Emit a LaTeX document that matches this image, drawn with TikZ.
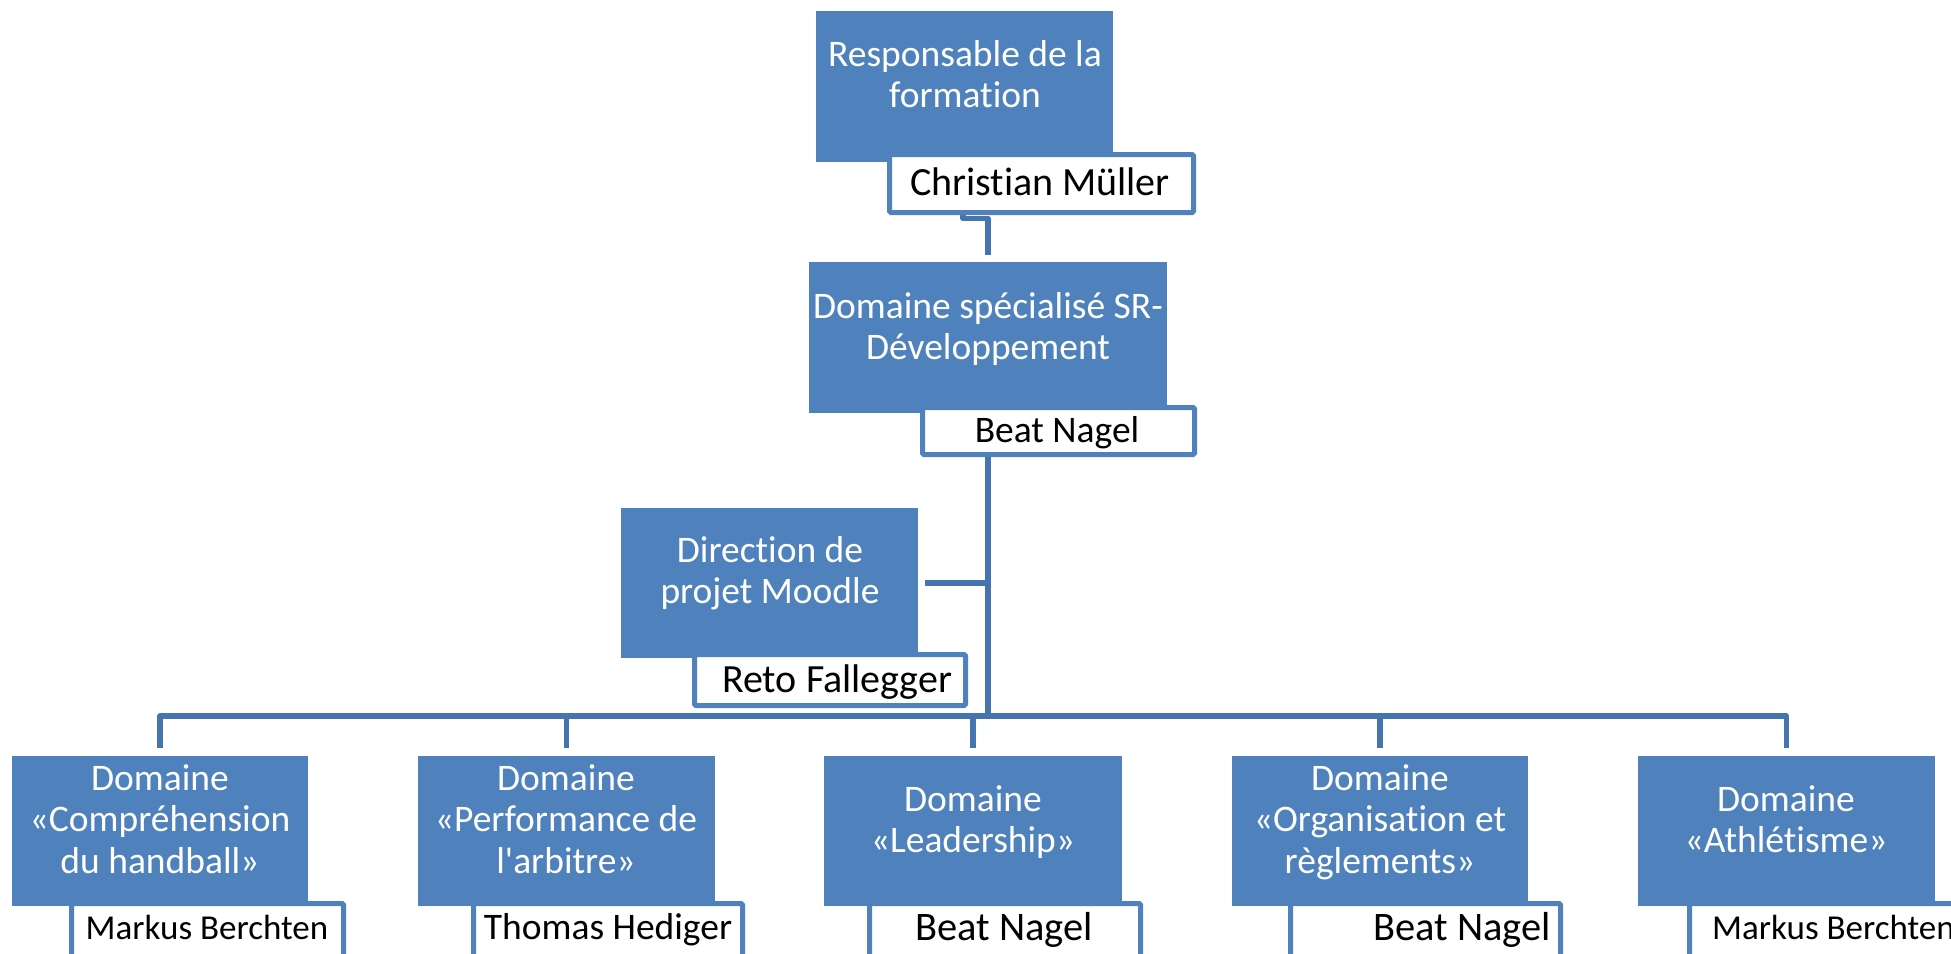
\documentclass[tikz,border=0pt]{standalone}
\usepackage{fontspec}
\setmainfont{Carlito}[Ligatures={TeXOff,CommonOff}]
\usetikzlibrary{backgrounds}
\definecolor{boxblue}{HTML}{4F81BD}
\definecolor{connblue}{HTML}{4674AE}
\newcommand{\fs}[1]{\fontsize{#1}{41.5}\selectfont}
\newcommand{\ml}[1]{\begin{tabular}[t]{@{}c@{}}#1\end{tabular}}
\begin{document}
\begin{tikzpicture}[x=1pt,y=-1pt,
  box/.style={rectangle,fill=boxblue,draw=none,inner sep=0pt,outer sep=0pt},
  namebox/.style={rectangle,fill=white,draw=boxblue,line width=5pt,rounded corners=1.5pt,inner sep=0pt,outer sep=0pt},
  boxtext/.style={text=white,inner sep=0pt,anchor=base,font=\fs{37.5}},
  nametext/.style={text=black,inner sep=0pt,anchor=base},
  conn/.style={draw=connblue,line width=5.5pt,line join=round}]
\useasboundingbox (0,0) rectangle (1951,953);
% blue boxes
\node[box,minimum width=297pt,minimum height=151pt] (b0) at (964.5,86.5) {};
\node[box,minimum width=358pt,minimum height=151pt] (b1) at (988,337.5) {};
\node[box,minimum width=297pt,minimum height=150pt] (bm) at (769.5,583) {};
\node[box,minimum width=296pt,minimum height=150pt] (d1) at (160,831) {};
\node[box,minimum width=297pt,minimum height=150pt] (d2) at (566.5,831) {};
\node[box,minimum width=298pt,minimum height=150pt] (d3) at (973,831) {};
\node[box,minimum width=296pt,minimum height=150pt] (d4) at (1380,831) {};
\node[box,minimum width=297pt,minimum height=150pt] (d5) at (1786.5,831) {};
% name boxes
\node[namebox,minimum width=304pt,minimum height=58pt] (n0) at (1041.5,183.5) {};
\node[namebox,minimum width=272pt,minimum height=47pt] (n1) at (1058.5,431) {};
\node[namebox,minimum width=271pt,minimum height=51pt] (nm) at (830,680) {};
\node[namebox,minimum width=272pt,minimum height=54pt] (nd1) at (207.5,930.5) {};
\node[namebox,minimum width=269pt,minimum height=54pt] (nd2) at (608,930.5) {};
\node[namebox,minimum width=271pt,minimum height=54pt] (nd3) at (1005,930.5) {};
\node[namebox,minimum width=270pt,minimum height=54pt] (nd4) at (1425.5,930.5) {};
\node[namebox,minimum width=272pt,minimum height=54pt] (nd5) at (1825.5,930.5) {};
% box texts
\node[boxtext] (t0) at (965,66) {\ml{Responsable de la\\formation}};
\node[boxtext] (t1) at (988,318) {\ml{Domaine spécialisé SR-\\Développement}};
\node[boxtext] (tm) at (770,562) {\ml{Direction de\\projet Moodle}};
\node[boxtext] (td1) at (160,790) {\ml{Domaine\\«Compréhension\\du handball»}};
\node[boxtext] (td2) at (566,790) {\ml{Domaine\\«Performance de\\l'arbitre»}};
\node[boxtext] (td3) at (973,811) {\ml{Domaine\\«Leadership»}};
\node[boxtext] (td4) at (1380,790) {\ml{Domaine\\«Organisation et\\règlements»}};
\node[boxtext] (td5) at (1786,811) {\ml{Domaine\\«Athlétisme»}};
% name texts
\node[nametext,font=\fs{40}] (tn0) at (1040,195) {Christian Müller};
\node[nametext,font=\fs{37.5}] (tn1) at (1057,442) {Beat Nagel};
\node[nametext,font=\fs{40},anchor=base west] (tnm) at (722,692) {Reto Fallegger};
\node[nametext,font=\fs{35}] (tnd1) at (207,939) {Markus Berchten};
\node[nametext,font=\fs{37.5}] (tnd2) at (608,939) {Thomas Hediger};
\node[nametext,font=\fs{40.5}] (tnd3) at (1004,940) {Beat Nagel};
\node[nametext,font=\fs{40.5},anchor=base west] (tnd4) at (1373,940) {Beat Nagel};
\node[nametext,font=\fs{35},anchor=base west] (tnd5) at (1712,939) {Markus Berchten};
% connectors
\coordinate (j0) at (963,0);
\coordinate (bus) at (0,716);
\begin{pgfonlayer}{background}
\fill[white] (0,0) rectangle (1951,953);
\draw[conn] (n0.south -| j0) -- ++(0,6) -| ([yshift=7pt]b1.north);
\draw[conn] (b1.south) -- (b1.south |- bus);
\draw[conn] ([xshift=7pt]bm.east) -- (bm.east -| b1.south);
\draw[conn] ([yshift=8pt]d1.north) |- (bus -| d5.north) -- ([yshift=8pt]d5.north);
\draw[conn] (bus -| d2.north) -- ([yshift=8pt]d2.north);
\draw[conn] (bus -| d3.north) -- ([yshift=8pt]d3.north);
\draw[conn] (bus -| d4.north) -- ([yshift=8pt]d4.north);
\end{pgfonlayer}
\end{tikzpicture}
\end{document}
